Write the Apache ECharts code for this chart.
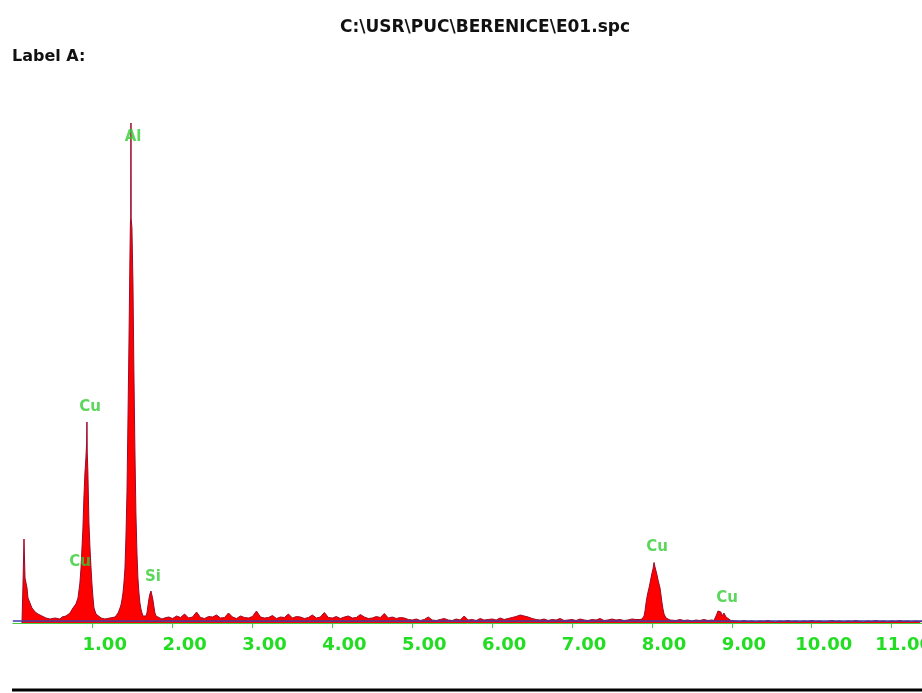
<!DOCTYPE html>
<html><head><meta charset="utf-8">
<script src="https://cdn.jsdelivr.net/npm/echarts@6/dist/echarts.min.js"></script>
<style>html,body{margin:0;padding:0;background:#fff}#c{width:922px;height:693px}</style>
</head><body><div id="c"></div>
<script>
// Spectrum: [energy keV, counts]
const lowRegion = [[0.115,0],[0.128,80],[0.14,168],[0.153,90],[0.165,86],[0.178,70],[0.19,50],[0.215,40],[0.24,30],[0.28,22],[0.315,18],[0.365,14],[0.415,10],[0.465,8],[0.53,10],[0.59,8]];
const cuL = [[0.616,12],[0.666,14],[0.716,20],[0.753,30],[0.79,38],[0.816,50],[0.84,80],[0.854,110],[0.866,150],[0.878,190],[0.89,250],[0.903,300],[0.915,330],[0.924,360],[0.928,402],[0.932,340],[0.94,300],[0.953,200],[0.966,150],[0.979,110],[0.99,80],[1.004,50],[1.016,30],[1.041,18],[1.066,14],[1.104,10],[1.154,8],[1.216,10],[1.28,12],[1.318,20],[1.342,30]];
const alK = [[1.354,36],[1.366,46],[1.379,60],[1.391,80],[1.404,110],[1.416,170],[1.429,260],[1.441,400],[1.454,560],[1.466,730],[1.472,800],[1.477,810],[1.479,1000],[1.481,810],[1.491,790],[1.504,680],[1.516,500],[1.529,340],[1.541,220],[1.554,140],[1.566,90],[1.579,60],[1.591,40],[1.604,28],[1.617,20],[1.629,14],[1.654,12]];
const siK = [[1.667,14],[1.679,20],[1.691,34],[1.704,48],[1.716,58],[1.729,64],[1.741,56],[1.754,46],[1.767,32],[1.779,20],[1.792,14],[1.817,10],[1.867,8]];
const bg1 = [[1.90,10],[1.95,12],[2.00,9],[2.05,14],[2.10,11],[2.15,18],[2.20,10],[2.25,12],[2.30,22],[2.35,11],[2.40,9],[2.45,13],[2.50,12],[2.55,16],[2.60,10],[2.65,11],[2.70,20],[2.75,12],[2.80,9],[2.85,14],[2.90,11],[2.95,10],[3.00,13],[3.05,24],[3.10,12],[3.15,10],[3.20,11],[3.25,15],[3.30,9],[3.35,12],[3.40,11],[3.45,18],[3.50,10],[3.55,13],[3.60,12],[3.65,9],[3.70,11],[3.75,16],[3.80,10],[3.85,12],[3.90,21],[3.95,11],[4.00,10],[4.05,13],[4.10,9],[4.15,12],[4.20,14],[4.25,10],[4.30,11],[4.35,17],[4.40,12],[4.45,9],[4.50,10],[4.55,13],[4.60,11],[4.65,19],[4.70,10],[4.75,12],[4.80,9],[4.85,11],[4.90,10]];
const bg2 = [[4.95,7],[5.00,6],[5.05,8],[5.10,5],[5.15,7],[5.20,12],[5.25,6],[5.30,5],[5.35,7],[5.40,9],[5.45,6],[5.50,5],[5.55,8],[5.60,6],[5.65,14],[5.70,6],[5.75,7],[5.80,5],[5.85,9],[5.90,6],[5.95,7],[6.00,8],[6.05,6],[6.10,10],[6.15,7],[6.20,9],[6.25,11],[6.30,13],[6.35,16],[6.40,14],[6.45,12],[6.50,9],[6.55,7],[6.60,6],[6.65,8],[6.70,5],[6.75,7],[6.80,6],[6.85,9],[6.90,5],[6.95,6],[7.00,7],[7.05,5],[7.10,8],[7.15,6],[7.20,5],[7.25,7],[7.30,6],[7.35,9],[7.40,5],[7.45,6],[7.50,8],[7.55,6],[7.60,7],[7.65,5],[7.70,6],[7.75,8],[7.80,7],[7.85,7]];
const cuKa = [[7.876,8],[7.901,14],[7.913,24],[7.926,40],[7.938,52],[7.951,62],[7.963,70],[7.976,80],[7.988,90],[8.001,100],[8.013,108],[8.026,121],[8.038,112],[8.051,104],[8.063,96],[8.076,86],[8.088,84],[8.101,70],[8.113,56],[8.126,40],[8.138,28],[8.151,18],[8.176,10],[8.226,6]];
const bg3 = [[8.25,6],[8.30,5],[8.35,7],[8.40,5],[8.45,6],[8.50,4],[8.55,6],[8.60,5],[8.65,7],[8.70,5],[8.75,6]];
const cuKb = [[8.776,5],[8.801,8],[8.813,18],[8.826,24],[8.851,25],[8.863,22],[8.876,14],[8.888,18],[8.901,20],[8.926,12],[8.951,8],[8.988,5]];
const bg4 = [[9.05,4],[9.10,3],[9.15,5],[9.20,3],[9.25,4],[9.30,2],[9.35,4],[9.40,3],[9.45,5],[9.50,3],[9.55,2],[9.60,4],[9.65,3],[9.70,5],[9.75,3],[9.80,4],[9.85,2],[9.90,4],[9.95,3],[10.00,5],[10.05,3],[10.10,4],[10.15,2],[10.20,3],[10.25,5],[10.30,3],[10.35,4],[10.40,2],[10.45,4],[10.50,3],[10.55,5],[10.60,3],[10.65,2],[10.70,4],[10.75,3],[10.80,5],[10.85,3],[10.90,4],[10.95,2],[11.00,4],[11.05,3],[11.10,5],[11.15,3],[11.20,4],[11.25,2],[11.30,4],[11.35,3],[11.38,4]];
const backgroundLevel = 5;
const peakLabels = [
  {name:'Al', value:[1.505,972]},
  {name:'Cu', value:[0.966,432]},
  {name:'Cu', value:[0.841,122]},
  {name:'Si', value:[1.755,92]},
  {name:'Cu', value:[8.063,152]},
  {name:'Cu', value:[8.94,50]}
];
const tickValues = [1,2,3,4,5,6,7,8,9,10,11];
const titleText = 'C:\\USR\\PUC\\BERENICE\\E01.spc';
const subTitle = 'Label A:';

const spectrum = [].concat(lowRegion, cuL, alK, siK, bg1, bg2, cuKa, bg3, cuKb, bg4);

const chart = echarts.init(document.getElementById('c'), null, {renderer:'canvas'});
const green = '#44cc44';
chart.setOption({
  animation:false,
  backgroundColor:'#ffffff',
  title:[
    {text:titleText, left:485, top:19, padding:0, textAlign:'center', textStyle:{fontFamily:'DejaVu Sans', fontWeight:'bold', fontSize:17, color:'#111'}},
    {text:subTitle, left:12, top:49, padding:0, textStyle:{fontFamily:'DejaVu Sans', fontWeight:'bold', fontSize:16, color:'#111'}}
  ],
  grid:{left:12.8, right:0, top:100, bottom:70, outerBoundsMode:'none', containLabel:false},
  xAxis:[
    {type:'value', min:0, max:11.38, offset:5,
     axisLine:{show:true, lineStyle:{color:green, width:1}},
     axisTick:{show:true, customValues:tickValues, length:3, lineStyle:{color:green}},
     axisLabel:{customValues:tickValues, formatter:v=>v.toFixed(2), color:'#22dd22', fontFamily:'DejaVu Sans', fontWeight:'bold', fontSize:18, margin:8, padding:[0,0,0,24], hideOverlap:false},
     splitLine:{show:false}},
    {type:'value', min:0, max:11.38, position:'bottom', offset:5,
     axisLine:{show:false},
     axisTick:{show:true, inside:true, customValues:tickValues, length:3, lineStyle:{color:green}},
     axisLabel:{show:false}, splitLine:{show:false}}
  ],
  yAxis:{type:'value', min:0, max:1046, show:false},
  series:[
    {type:'line', data:spectrum, symbol:'none', xAxisIndex:0,
     lineStyle:{color:'#9a0a2a', width:1},
     areaStyle:{color:'#ff0000', opacity:1},
     markLine:{silent:true, symbol:'none', label:{show:false},
       lineStyle:{color:'#3c3caa', width:1.5, type:'solid'},
       data:[{yAxis:backgroundLevel}]}},
    {type:'scatter', data:peakLabels, symbolSize:1, itemStyle:{color:'rgba(0,0,0,0)'}, z:5,
     label:{show:true, position:'inside', formatter:'{b}', color:'#33cc33', fontWeight:'bold', fontSize:15, fontFamily:'DejaVu Sans'}}
  ],
  graphic:[
    {type:'line', shape:{x1:12, y1:690, x2:922, y2:690}, style:{stroke:'#000', lineWidth:3}}
  ]
});
</script></body></html>
